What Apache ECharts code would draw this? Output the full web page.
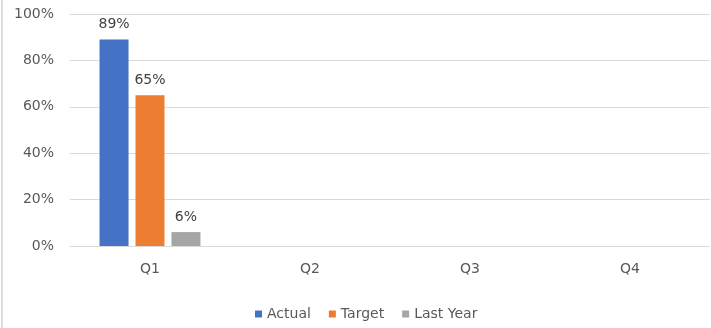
<!DOCTYPE html>
<html>
<head>
<meta charset="utf-8">
<script src="https://cdn.jsdelivr.net/npm/echarts@6/dist/echarts.min.js"></script>
<style>
  html, body { margin: 0; padding: 0; background: #fff; }
  #chart { width: 711px; height: 328px; }
</style>
</head>
<body>
<div id="chart"></div>
<script>
// Quarterly performance, percent of goal
const quarters = ['Q1', 'Q2', 'Q3', 'Q4'];
const actual = [89, null, null, null];
const target = [65, null, null, null];
const lastYear = [6, null, null, null];
const yTicks = { min: 0, max: 100, step: 20 };

const font = 'DejaVu Sans, sans-serif';
const chart = echarts.init(document.getElementById('chart'), null, { renderer: 'canvas' });

function bar(name, data, color) {
  return {
    name: name,
    type: 'bar',
    data: data,
    barWidth: 29,
    barGap: '24%',
    itemStyle: { color: color },
    label: {
      show: true,
      position: 'top',
      distance: 8,
      color: '#404040',
      fontSize: 14,
      fontFamily: font,
      formatter: p => (p.value == null ? '' : p.value + '%')
    }
  };
}

chart.setOption({
  animation: false,
  textStyle: { fontFamily: font },
  grid: { left: 70, right: 1, top: 14, bottom: 82 },
  legend: {
    top: 302,
    left: 250,
    itemWidth: 7,
    itemHeight: 7,
    itemGap: 18,
    icon: 'rect',
    textStyle: { color: '#595959', fontSize: 14, fontFamily: font },
    data: ['Actual', 'Target', 'Last Year']
  },
  xAxis: {
    type: 'category',
    data: quarters,
    axisLine: { show: false },
    axisTick: { show: false },
    axisLabel: { color: '#595959', fontSize: 14, margin: 16, fontFamily: font }
  },
  yAxis: {
    type: 'value',
    min: yTicks.min,
    max: yTicks.max,
    interval: yTicks.step,
    axisLine: { show: false },
    axisTick: { show: false },
    axisLabel: { color: '#595959', fontSize: 14, margin: 16, fontFamily: font, formatter: '{value}%' },
    splitLine: { lineStyle: { color: '#d9d9d9', width: 1 } }
  },
  graphic: [{
    type: 'rect',
    shape: { x: 1, y: 0, width: 2, height: 328 },
    style: { fill: '#dcdcdc' },
    silent: true
  }],
  series: [
    bar('Actual', actual, '#4472C4'),
    bar('Target', target, '#ED7D31'),
    bar('Last Year', lastYear, '#A5A5A5')
  ]
});
</script>
</body>
</html>
